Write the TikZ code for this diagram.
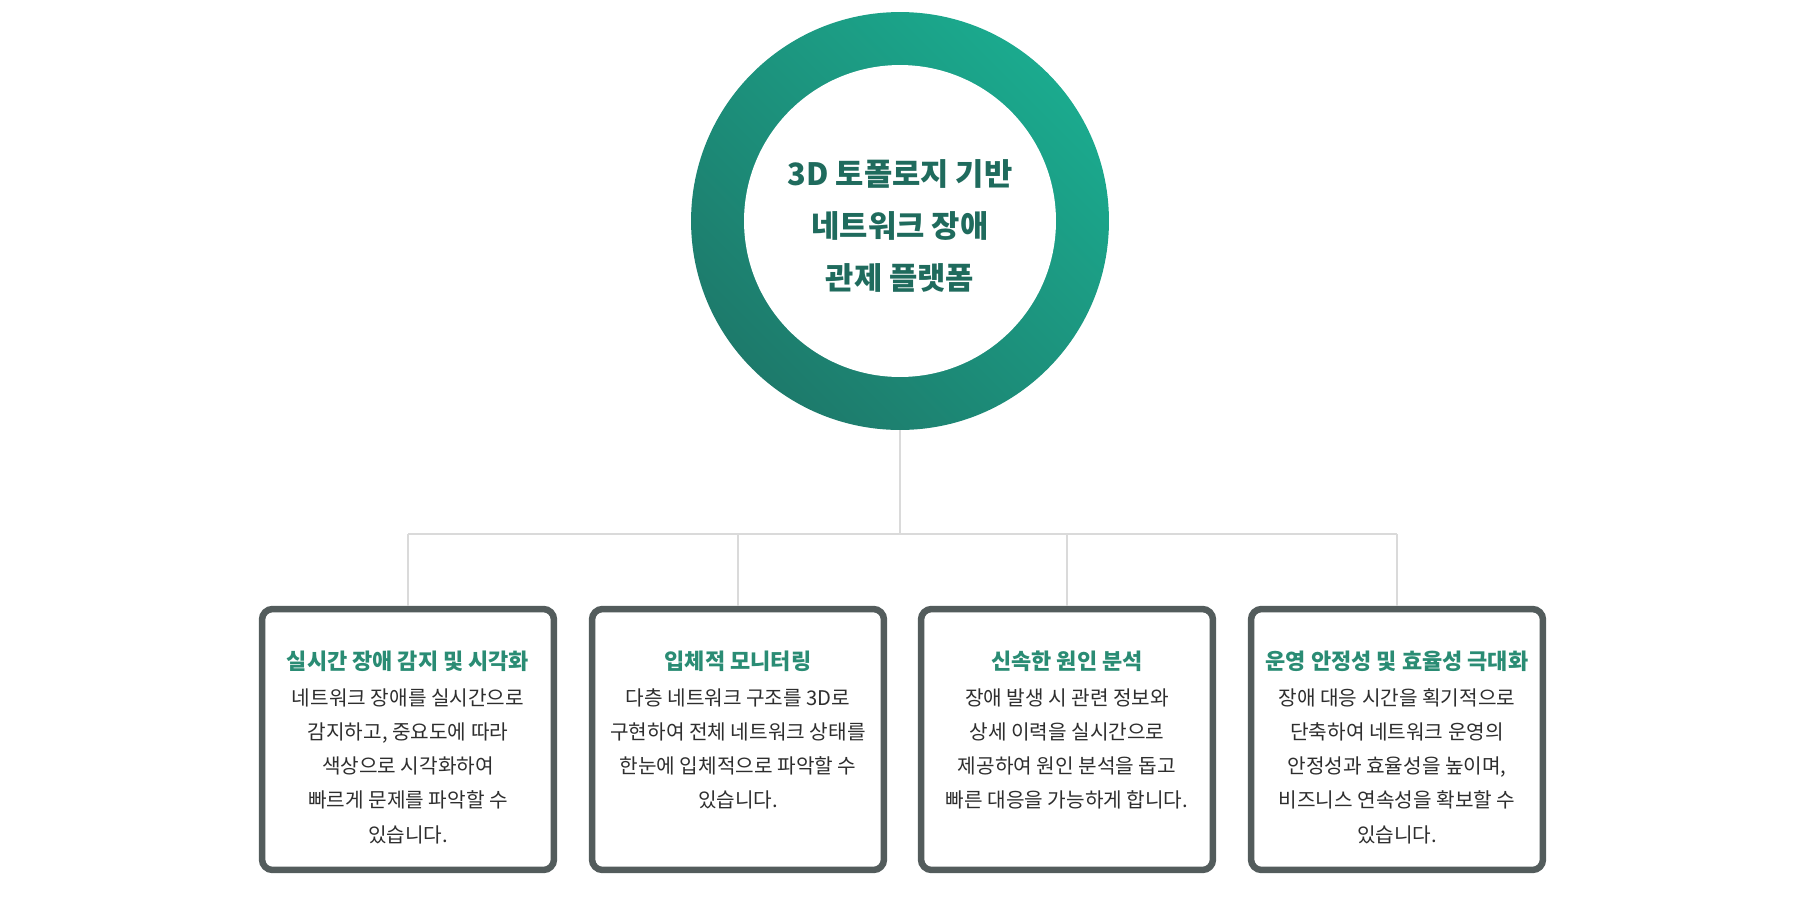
\documentclass[tikz,border=0pt]{standalone}
\usepackage{fontspec}
\setmainfont{Noto Sans CJK KR}
\usetikzlibrary{calc,positioning}
\usepackage{xcolor}
\definecolor{ringlight}{HTML}{1BAA8E}
\definecolor{ringdark}{HTML}{1D7A6B}
\definecolor{coreteal}{HTML}{1F6B5D}
\definecolor{titleteal}{HTML}{2A8C74}
\definecolor{boxgray}{HTML}{535C5C}
\definecolor{bodygray}{HTML}{2E2E2E}
\definecolor{wiregray}{HTML}{DADADA}

\begin{document}
\begin{tikzpicture}[x=0.02cm,y=-0.02cm,
  wire/.style={wiregray,line width=0.6pt},
  featbox/.style={draw=boxgray,line width=3.7pt,rounded corners=6pt,fill=white,
    minimum width=5.84cm,minimum height=5.22cm,inner sep=0pt},
  feattitle/.style={font=\fontsize{12.5}{15}\selectfont\bfseries,text=titleteal,inner sep=0pt},
  featbody/.style={font=\fontsize{11.5}{19.5}\selectfont,text=bodygray,align=center,
    inner sep=0pt,anchor=north}]
  \useasboundingbox (0,0) rectangle (1797,900);

  % Ring
  \node[circle,minimum size=8.36cm,inner sep=0pt,top color=ringlight,bottom color=ringdark,
    shading angle=-45] (ring) at (900,221) {};
  \node[circle,minimum size=6.24cm,inner sep=0pt,fill=white] (core) at (ring.center) {};
  \node[font=\fontsize{17.5}{29.5}\selectfont\bfseries,text=coreteal,align=center,inner sep=0pt]
    (label) at (900,226) {3D 토폴로지 기반\\네트워크 장애\\관제 플랫폼};

  % Boxes
  \node[featbox] (box1) at (408,739.5) {};
  \node[featbox] (box2) at (738,739.5) {};
  \node[featbox] (box3) at (1067,739.5) {};
  \node[featbox] (box4) at (1397,739.5) {};

  % Titles
  \node[feattitle] (title1) at (408,661) {실시간 장애 감지 및 시각화};
  \node[feattitle] (title2) at (738,661) {입체적 모니터링};
  \node[feattitle] (title3) at (1067,661) {신속한 원인 분석};
  \node[feattitle] (title4) at (1397,661) {운영 안정성 및 효율성 극대화};

  % Texts
  \node[featbody] (body1) at (408,688) {네트워크 장애를 실시간으로\\감지하고, 중요도에 따라\\색상으로 시각화하여\\빠르게 문제를 파악할 수\\있습니다.};
  \node[featbody] (body2) at (738,688) {다층 네트워크 구조를 3D로\\구현하여 전체 네트워크 상태를\\한눈에 입체적으로 파악할 수\\있습니다.};
  \node[featbody] (body3) at (1067,688) {장애 발생 시 관련 정보와\\상세 이력을 실시간으로\\제공하여 원인 분석을 돕고\\빠른 대응을 가능하게 합니다.};
  \node[featbody] (body4) at (1397,688) {장애 대응 시간을 획기적으로\\단축하여 네트워크 운영의\\안정성과 효율성을 높이며,\\비즈니스 연속성을 확보할 수\\있습니다.};

  % Wires
  \coordinate (hub) at (900,534);
  \draw[wire] (ring.south) -- (hub);
  \draw[wire] (box1.north |- hub) -- (box4.north |- hub);
  \foreach \i in {1,...,4} {
    \draw[wire] (box\i.north |- hub) -- (box\i.north);
  }
\end{tikzpicture}
\end{document}
